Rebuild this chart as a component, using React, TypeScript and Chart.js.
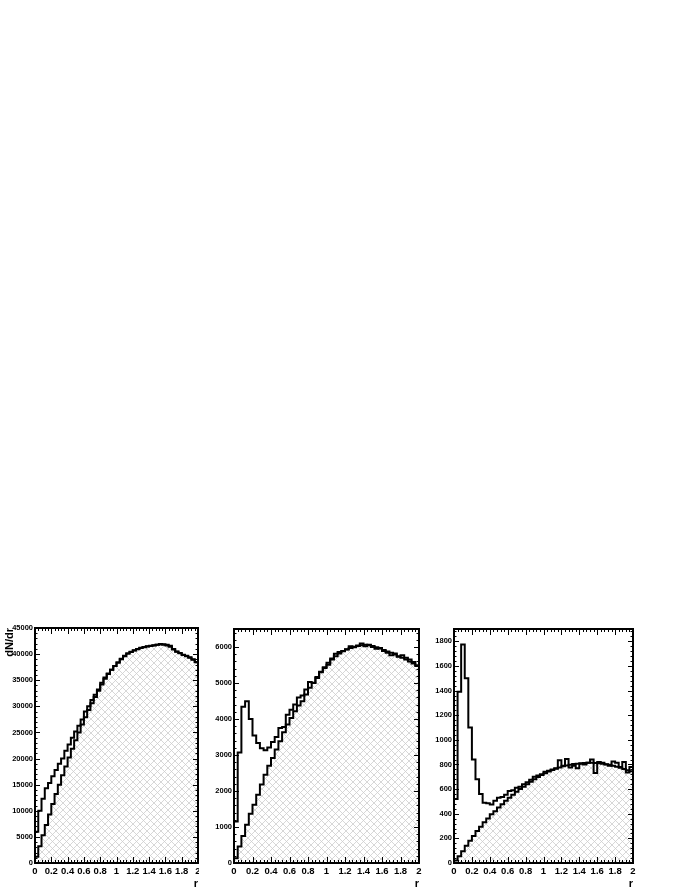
import React, { useEffect, useRef } from 'react';
import { Chart, registerables } from 'chart.js';

Chart.register(...registerables);

// ---------- data ----------
const binLowEdges: number[] = Array.from({ length: 50 }, (_, i) => +(i * 0.04).toFixed(2));
const xUpperEdge = 2;

const xTickValues = [0, 0.2, 0.4, 0.6, 0.8, 1, 1.2, 1.4, 1.6, 1.8, 2];
const xTickLabels = ['0', '0.2', '0.4', '0.6', '0.8', '1', '1.2', '1.4', '1.6', '1.8', '2'];

// panel 1
const p1Open = [
  6000, 10000, 12300, 14300, 15300, 16600, 17800, 19000, 20000, 21500,
  22700, 24000, 25200, 26300, 27500, 29000, 30000, 31200, 32200, 33200,
  34500, 35500, 36300, 37000, 37700, 38400, 39100, 39700, 40100, 40400,
  40700, 40950, 41150, 41300, 41450, 41550, 41650, 41800, 41950, 41900,
  41800, 41600, 41000, 40500, 40200, 39900, 39700, 39400, 39000, 38500,
];
const p1Hatched = [
  1200, 3200, 5300, 7300, 9300, 11300, 13200, 15000, 16800, 18500,
  20200, 21900, 23500, 25000, 26500, 27900, 29300, 30600, 31800, 33000,
  34200, 35300, 36200, 37000, 37700, 38400, 39000, 39600, 40100, 40450,
  40750, 41000, 41200, 41350, 41500, 41600, 41700, 41800, 41850, 41800,
  41650, 41400, 40900, 40450, 40150, 39850, 39600, 39300, 38900, 38450,
];
const p1YTicks = [0, 5000, 10000, 15000, 20000, 25000, 30000, 35000, 40000, 45000];
const p1YLabels = ['0', '5000', '10000', '15000', '20000', '25000', '30000', '35000', '40000', '45000'];

// panel 2
const p2Open = [
  1150, 3070, 4340, 4490, 4000, 3540, 3330, 3190, 3130, 3210,
  3360, 3500, 3750, 3780, 4120, 4260, 4400, 4600, 4650, 4820,
  5030, 5000, 5140, 5300, 5420, 5510, 5680, 5810, 5860, 5890,
  5930, 6020, 5990, 6040, 6100, 6020, 6060, 6000, 5950, 5970,
  5890, 5840, 5770, 5820, 5730, 5770, 5700, 5650, 5580, 5470,
];
const p2Hatched = [
  130, 455, 750, 1060, 1365, 1615, 1895, 2180, 2450, 2700,
  2915, 3150, 3380, 3630, 3845, 4030, 4215, 4375, 4495, 4680,
  4865, 5005, 5170, 5310, 5440, 5560, 5655, 5745, 5820, 5885,
  5940, 5975, 6005, 6030, 6050, 6060, 6050, 6030, 5995, 5955,
  5915, 5875, 5840, 5795, 5745, 5700, 5655, 5600, 5545, 5490,
];
const p2YTicks = [0, 1000, 2000, 3000, 4000, 5000, 6000];
const p2YLabels = ['0', '1000', '2000', '3000', '4000', '5000', '6000'];

// panel 3
const p3Open = [
  520, 1390, 1775, 1500, 1100, 840, 680, 560, 490, 485,
  475, 505, 530, 535, 555, 585, 590, 610, 620, 640,
  655, 675, 700, 710, 720, 740, 750, 760, 770, 835,
  790, 845, 775, 790, 770, 805, 800, 815, 840, 730,
  820, 815, 800, 790, 825, 815, 780, 820, 735, 780,
];
const p3Hatched = [
  20, 55, 95, 140, 180, 220, 260, 295, 330, 362,
  395, 420, 450, 478, 505, 530, 555, 578, 600, 620,
  640, 660, 680, 698, 714, 729, 742, 755, 765, 775,
  785, 792, 798, 803, 806, 809, 811, 813, 813, 812,
  810, 806, 802, 797, 790, 782, 773, 764, 754, 745,
];
const p3YTicks = [0, 200, 400, 600, 800, 1000, 1200, 1400, 1600, 1800];
const p3YLabels = ['0', '200', '400', '600', '800', '1000', '1200', '1400', '1600', '1800'];

// ---------- helpers ----------
function toSteps(vals: number[]) {
  const pts = vals.map((v, i) => ({ x: binLowEdges[i], y: v }));
  pts.push({ x: xUpperEdge, y: vals[vals.length - 1] });
  return pts;
}

function makeHatch(): CanvasPattern | string {
  const n = 7;
  const c = document.createElement('canvas');
  c.width = n;
  c.height = n;
  const g = c.getContext('2d');
  if (!g) return '#eee';
  g.fillStyle = '#ffffff';
  g.fillRect(0, 0, n, n);
  g.strokeStyle = '#cdcdcd';
  g.lineWidth = 0.8;
  g.beginPath();
  g.moveTo(-1, -1);
  g.lineTo(n + 1, n + 1);
  g.moveTo(n + 1, -1);
  g.lineTo(-1, n + 1);
  g.stroke();
  return g.createPattern(c, 'repeat') || '#eee';
}

const framePlugin = {
  id: 'rootFrame',
  afterDatasetsDraw(chart: any, _args: any, opts: any) {
    const { ctx, chartArea: a, scales } = chart;
    const xs = scales.x;
    const ys = scales.y;
    ctx.save();
    ctx.strokeStyle = '#000';
    ctx.lineWidth = 1;
    ctx.beginPath();
    const xMajorLen = 6, xMinorLen = 3;
    const yMajorLen = 5, yMinorLen = 2.5;
    const nx = Math.round((xs.max - xs.min) / opts.xMinor);
    for (let k = 0; k <= nx; k++) {
      const v = xs.min + k * opts.xMinor;
      const isMajor = Math.abs(v / opts.xMajor - Math.round(v / opts.xMajor)) < 1e-6;
      const len = isMajor ? xMajorLen : xMinorLen;
      const px = Math.round(xs.getPixelForValue(v)) + 0.5;
      ctx.moveTo(px, a.bottom);
      ctx.lineTo(px, a.bottom - len);
      ctx.moveTo(px, a.top);
      ctx.lineTo(px, a.top + len);
    }
    const ny = Math.floor((ys.max - ys.min) / opts.yMinor + 1e-6);
    for (let k = 0; k <= ny; k++) {
      const v = ys.min + k * opts.yMinor;
      const isMajor = Math.abs(v / opts.yMajor - Math.round(v / opts.yMajor)) < 1e-6;
      const len = isMajor ? yMajorLen : yMinorLen;
      const py = Math.round(ys.getPixelForValue(v)) + 0.5;
      ctx.moveTo(a.left, py);
      ctx.lineTo(a.left + len, py);
      ctx.moveTo(a.right, py);
      ctx.lineTo(a.right - len, py);
    }
    ctx.stroke();
    ctx.lineWidth = 2;
    ctx.strokeRect(a.left, a.top, a.right - a.left, a.bottom - a.top);
    ctx.restore();
  },
};

type PanelProps = {
  left: number;
  width: number;
  open: number[];
  hatched: number[];
  yMax: number;
  yTicks: number[];
  yLabels: string[];
  yMajor: number;
  yMinor: number;
  yAxisWidth: number;
  padRight: number;
  padTop: number;
  yTitle?: string;
};

const FONT = '"Liberation Sans", Arial, Helvetica, sans-serif';
const TOP = 600;
const HEIGHT = 296;

function zeroPad(s: any) {
  s.paddingLeft = 0;
  s.paddingRight = 0;
  s.paddingTop = 0;
  s.paddingBottom = 0;
}

function Panel(p: PanelProps) {
  const ref = useRef<HTMLCanvasElement | null>(null);
  useEffect(() => {
    if (!ref.current) return;
    const hatch = makeHatch();
    const chart = new Chart(ref.current, {
      type: 'line',
      data: {
        datasets: [
          {
            data: toSteps(p.open),
            stepped: true,
            borderColor: '#000',
            borderWidth: 2,
            pointRadius: 0,
            fill: false,
            order: 1,
          },
          {
            data: toSteps(p.hatched),
            stepped: true,
            borderColor: '#000',
            borderWidth: 2,
            pointRadius: 0,
            fill: 'origin',
            backgroundColor: hatch as any,
            order: 2,
          },
        ],
      },
      options: {
        animation: false,
        responsive: false,
        maintainAspectRatio: false,
        devicePixelRatio: 1,
        layout: {
          autoPadding: false,
          padding: { left: 0, right: p.padRight, top: p.padTop, bottom: 3 },
        },
        plugins: {
          legend: { display: false },
          tooltip: { enabled: false },
          rootFrame: { xMajor: 0.2, xMinor: 0.04, yMajor: p.yMajor, yMinor: p.yMinor },
        } as any,
        scales: {
          x: {
            type: 'linear',
            min: 0,
            max: 2,
            grid: { display: false, drawTicks: false },
            border: { display: false },
            afterBuildTicks: (s: any) => {
              s.ticks = xTickValues.map((v) => ({ value: v }));
            },
            afterFit: (s: any) => {
              s.height = 30;
              zeroPad(s);
            },
            ticks: {
              autoSkip: false,
              maxRotation: 0,
              padding: 3,
              color: '#000',
              font: { family: FONT, size: 9.5, weight: 'bold' },
              callback: (_v: any, i: number) => xTickLabels[i],
            },
            title: {
              display: true,
              text: 'r',
              align: 'end',
              color: '#000',
              padding: { top: 0, bottom: 2 },
              font: { family: FONT, size: 11, weight: 'bold' },
            },
          },
          y: {
            type: 'linear',
            min: 0,
            max: p.yMax,
            grid: { display: false, drawTicks: false },
            border: { display: false },
            afterBuildTicks: (s: any) => {
              s.ticks = p.yTicks.map((v) => ({ value: v }));
            },
            afterFit: (s: any) => {
              s.width = p.yAxisWidth;
              zeroPad(s);
            },
            ticks: {
              autoSkip: false,
              padding: 2,
              color: '#000',
              font: { family: FONT, size: 7.5, weight: 'bold' },
              callback: (_v: any, i: number) => p.yLabels[i],
            },
            title: {
              display: !!p.yTitle,
              text: p.yTitle || '',
              align: 'end',
              color: '#000',
              padding: { top: 3, bottom: 0 },
              font: { family: FONT, size: 11, weight: 'bold' },
            },
          },
        },
      } as any,
      plugins: [framePlugin as any],
    });
    return () => chart.destroy();
  }, []);
  return (
    <canvas
      ref={ref}
      width={p.width}
      height={HEIGHT}
      style={{ position: 'absolute', left: p.left, top: TOP, width: p.width, height: HEIGHT }}
    />
  );
}

export default function App() {
  return (
    <div style={{ position: 'absolute', left: 0, top: 0, width: 692, height: 896, background: '#fff', overflow: 'hidden' }}>
      <Panel left={0} width={199} open={p1Open} hatched={p1Hatched} yMax={45000} yTicks={p1YTicks} yLabels={p1YLabels}
        yMajor={5000} yMinor={1000} yAxisWidth={35} padRight={1} padTop={28} yTitle="dN/dr" />
      <Panel left={199} width={231} open={p2Open} hatched={p2Hatched} yMax={6500} yTicks={p2YTicks} yLabels={p2YLabels}
        yMajor={1000} yMinor={200} yAxisWidth={35} padRight={11} padTop={29} />
      <Panel left={430} width={262} open={p3Open} hatched={p3Hatched} yMax={1900} yTicks={p3YTicks} yLabels={p3YLabels}
        yMajor={200} yMinor={40} yAxisWidth={24} padRight={59} padTop={29} />
    </div>
  );
}
